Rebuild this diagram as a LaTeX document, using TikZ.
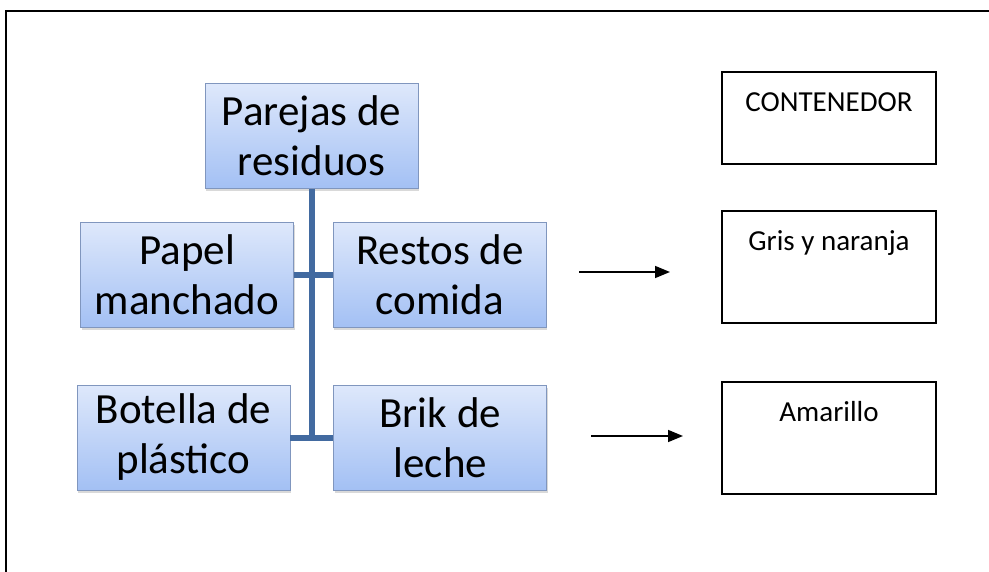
\documentclass[tikz,border=0pt]{standalone}
\usepackage{fontspec}
\setmainfont{Carlito}
\usetikzlibrary{arrows.meta}
\usetikzlibrary{positioning}
\usetikzlibrary{shadows}
\definecolor{boxtop}{RGB}{222,232,251}
\definecolor{boxbottom}{RGB}{163,192,244}
\definecolor{boxline}{RGB}{128,150,190}
\definecolor{treeline}{RGB}{66,106,160}

\begin{document}
\begin{tikzpicture}[
		x=1pt, y=-1pt,
		node distance=39pt,
		arrow/.style={line width=1.5pt, -{Triangle[length=15pt, width=12pt]}},
		block/.style={draw=boxline, line width=0.8pt, top color=boxtop, bottom color=boxbottom, minimum width=213pt, minimum height=105pt, align=center, inner sep=0pt, font=\fontsize{43}{50}\selectfont, drop shadow={shadow xshift=1pt, shadow yshift=-3pt, opacity=0.3}},
		tree/.style={draw=treeline, line width=6pt},
		bin/.style={draw, line width=1.8pt, minimum width=214pt, minimum height=112pt, inner sep=0pt},
		bintext/.style={font=\fontsize{29}{35}\selectfont, anchor=base, yshift=-40pt, inner sep=0pt},
	]
	\useasboundingbox (0,0) rectangle (989,572);
	\draw[line width=2pt] (989,11) -- (6,11) -- (6,572);

	\node[block] (pairs) at (311.5,136) {Parejas de\\residuos};
	\node[block] (paper) at (187,275) {Papel\\manchado};
	\node[block, right=of paper] (food) {Restos de\\comida};
	\node[block] (bottle) at (183.5,437.5) {Botella de\\plástico};
	\node[block, right=43pt of bottle] (brick) {Brik de\\leche};

	\draw[tree] (pairs.south) -- (pairs.south |- bottle.east);
	\draw[tree] (paper.east) -- (food.west);
	\draw[tree] (bottle.east) -- (brick.west);

	\node[bin, minimum height=92pt, label={[bintext]north:CONTENEDOR}] (bintitle) at (829,118) {};
	\node[bin, label={[bintext]north:Gris y naranja}] (grey) at (829,267) {};
	\node[bin, label={[bintext]north:Amarillo}] (yellow) at (829,438) {};

	\coordinate (greyfrom) at (579,272);
	\coordinate[right=91pt of greyfrom] (greyto);
	\coordinate (yellowfrom) at (591,436);
	\coordinate[right=92pt of yellowfrom] (yellowto);

	\draw[arrow] (greyfrom) -- (greyto);
	\draw[arrow] (yellowfrom) -- (yellowto);
\end{tikzpicture}
\end{document}
